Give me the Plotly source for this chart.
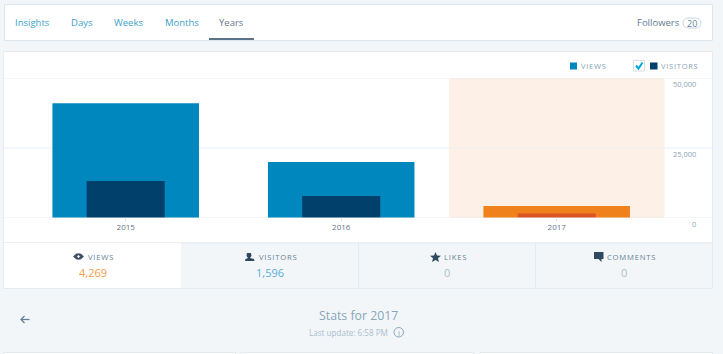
import plotly.graph_objects as go

W, H = 723, 354
years = ["2015", "2016", "2017"]
views = [41000, 20000, 4269]
visitors = [13200, 7900, 1596]
views_colors = ["#0087be", "#0087be", "#f0821e"]
visitors_colors = ["#00406b", "#00406b", "#dc5424"]
y_ticks = [0, 25000, 50000]
y_labels = ["0", "25,000", "50,000"]
tabs = [("Insights", 32, "#3d9fca"), ("Days", 81.5, "#3d9fca"), ("Weeks", 128.5, "#3d9fca"),
        ("Months", 181.5, "#3d9fca"), ("Years", 231.5, "#66788a")]
stat_labels = [("VIEWS", 100.5), ("VISITORS", 277.5), ("LIKES", 454.5), ("COMMENTS", 631)]
stat_values = [("4,269", 92.5, "#f59a48"), ("1,596", 270, "#55b0d8"), ("0", 446.5, "#a8bece"), ("0", 623.5, "#a8bece")]

FONT = "Open Sans"
L, R, T, B = 4, 713, 78, 218
BAND = 215.5
LEFT_CENTER = 125.7
GRID = "#e9eff3"


def fx(x):
    return (x - L) / (R - L)


def fy(y):
    return (B - y) / (B - T)


def rect(x0, y0, x1, y1, fill, line=None, layer="below"):
    return dict(type="rect", xref="paper", yref="paper", x0=fx(x0), x1=fx(x1), y0=fy(y1), y1=fy(y0),
                fillcolor=fill, line=dict(color=line or fill, width=1 if line else 0), layer=layer)


def path(points, fill, close=True, width=0, color=None):
    d = "M " + " L ".join(f"{fx(a):.5f},{fy(b):.5f}" for a, b in points) + (" Z" if close else "")
    return dict(type="path", xref="paper", yref="paper", path=d, fillcolor=fill if close else "rgba(0,0,0,0)",
                line=dict(color=color or fill, width=width), layer="above")


def label(text, x, y, size, color, anchor="center"):
    return dict(text=text, xref="paper", yref="paper", x=fx(x), y=fy(y), xanchor=anchor, yanchor="middle",
                showarrow=False, font=dict(family=FONT, size=size, color=color))


def spaced(s):
    return "\u200a".join(s)


fig = go.Figure()
fig.add_bar(x=years, y=views, width=0.68, marker=dict(color=views_colors, line_width=0), name="Views", hoverinfo="skip")
fig.add_bar(x=years, y=visitors, width=0.362, marker=dict(color=visitors_colors, line_width=0), name="Visitors", hoverinfo="skip")

shapes = [
    rect(4.5, 4.5, 712.5, 40.5, "#ffffff", "#dde6ec"),
    rect(209, 38, 254, 40, "#5a7388", layer="above"),
    rect(3.5, 51.5, 712.5, 243, "#ffffff", "#e4ebf0"),
    rect(3.5, 243, 712.5, 288.5, "#f3f6f8", "#e4ebf0"),
    rect(4, 243, 181, 288, "#ffffff"),
    rect(358, 243, 359, 288, "#e4ebf0"),
    rect(535, 243, 536, 288, "#e4ebf0"),
    rect(4, 352.5, 235.5, 360, "#ffffff", "#e4ebf0"),
    rect(241, 352.5, 474, 360, "#ffffff", "#e4ebf0"),
    rect(480, 352.5, 712.5, 360, "#ffffff", "#e4ebf0"),
    dict(type="rect", xref="x", yref="paper", x0=1.5, x1=2.5, y0=0, y1=1, fillcolor="#fdf0e7", line_width=0, layer="below"),
    rect(570, 62.5, 577, 69.5, "#0087be", layer="above"),
    rect(650, 62.5, 657.5, 69.5, "#00406b", layer="above"),
    rect(633.5, 60.5, 644.5, 71, "#ffffff", "#d5e0e8", layer="above"),
    path([(636, 65.5), (638.5, 68.5), (642.5, 62.5)], "#00aadc", close=False, width=2, color="#00aadc"),
    path([(73, 256.5), (76, 253.8), (78.5, 253.2), (81, 253.8), (84, 256.5), (81, 259.2), (78.5, 259.8), (76, 259.2)], "#3d5266"),
    path([(77, 256.5), (78.5, 255), (80, 256.5), (78.5, 258)], "#ffffff"),
    path([(247, 253), (251, 253), (251.5, 256), (250, 258), (254, 259), (254.5, 261), (245, 261), (245.5, 259), (248, 258), (246.5, 256)], "#2f4a60"),
    path([(435.5, 252), (437, 255.5), (441, 255.8), (438, 258.2), (439, 262), (435.5, 260), (432, 262), (433, 258.2), (430, 255.8), (434, 255.5)], "#2f4a60"),
    path([(594, 252), (603.5, 252), (603.5, 259), (601.5, 259), (601.5, 262), (598.5, 259), (594, 259)], "#2f4a60"),
    path([(21, 319.5), (29.5, 319.5)], "#5f7d95", close=False, width=1.2, color="#5f7d95"),
    path([(24.5, 316), (21, 319.5), (24.5, 323)], "#5f7d95", close=False, width=1.2, color="#5f7d95"),
    dict(type="path", xref="paper", yref="paper",
         path=f"M {fx(689)},{fy(18)} L {fx(695)},{fy(18)} Q {fx(701)},{fy(18)} {fx(701)},{fy(23)} Q {fx(701)},{fy(28)} {fx(695)},{fy(28)} "
              f"L {fx(689)},{fy(28)} Q {fx(683)},{fy(28)} {fx(683)},{fy(23)} Q {fx(683)},{fy(18)} {fx(689)},{fy(18)} Z",
         fillcolor="#ffffff", line=dict(color="#c8d7e1", width=1), layer="above"),
    dict(type="circle", xref="paper", yref="paper", x0=fx(394), x1=fx(403.5), y0=fy(337), y1=fy(327.5),
         line=dict(color="#87a6bc", width=1), fillcolor="rgba(0,0,0,0)", layer="above"),
]
shapes += [dict(type="line", xref="paper", yref="y", x0=0, x1=1, y0=v, y1=v,
                line=dict(color=GRID, width=1), layer="above" if v == 0 else "below") for v in y_ticks]

annotations = [label(t, x, 22.5, 9.5, c) for t, x, c in tabs]
annotations += [
    label("Followers", 658, 22.5, 9.5, "#5f7d95"),
    label("20", 692, 23, 9, "#668299"),
    label(spaced("VIEWS"), 593.2, 66, 7.5, "#8aa3b5"),
    label(spaced("VISITORS"), 679.5, 66, 7.5, "#8aa3b5"),
    label("Stats for 2017", 358, 315, 12.3, "#87a6bc"),
    label("Last update: 6:58 PM", 348.5, 332.5, 8.1, "#a8bece"),
    label("i", 398.8, 332.3, 8, "#87a6bc"),
]
annotations += [label(spaced(t), x, 257, 7.7, "#668299") for t, x in stat_labels]
annotations += [label(t, x, 272.5, 11, c) for t, x, c in stat_values]
annotations += [dict(text=t, xref="paper", yref="y", x=fx(698), y=v, xanchor="right", yanchor="middle", yshift=-6,
                     showarrow=False, font=dict(family=FONT, size=7.5, color="#8aa3b5"))
                for v, t in zip(y_ticks, y_labels)]

x_start = -0.5 - (LEFT_CENTER - BAND / 2 - L) / BAND

fig.update_layout(
    width=W, height=H, autosize=False, barmode="overlay", showlegend=False,
    margin=dict(l=L, r=W - R, t=T, b=H - B, pad=0),
    paper_bgcolor="#f3f6f8", plot_bgcolor="rgba(0,0,0,0)",
    font=dict(family=FONT),
    shapes=shapes, annotations=annotations,
    xaxis=dict(type="category", range=[x_start, x_start + (R - L) / BAND],
               showgrid=False, ticks="outside", ticklen=2, tickcolor="#d5e0e8", showline=False,
               tickfont=dict(size=8, color="#5f7488"), zeroline=False, fixedrange=True, ticklabelstandoff=-1),
    yaxis=dict(range=[0, 50000], tickvals=y_ticks, showticklabels=False, showgrid=False,
               zeroline=False, showline=False, ticks="", fixedrange=True),
)

fig.write_html("out.html", config=dict(displayModeBar=False, responsive=False),
               post_script="document.body.style.margin='0';document.body.style.overflow='hidden';")
